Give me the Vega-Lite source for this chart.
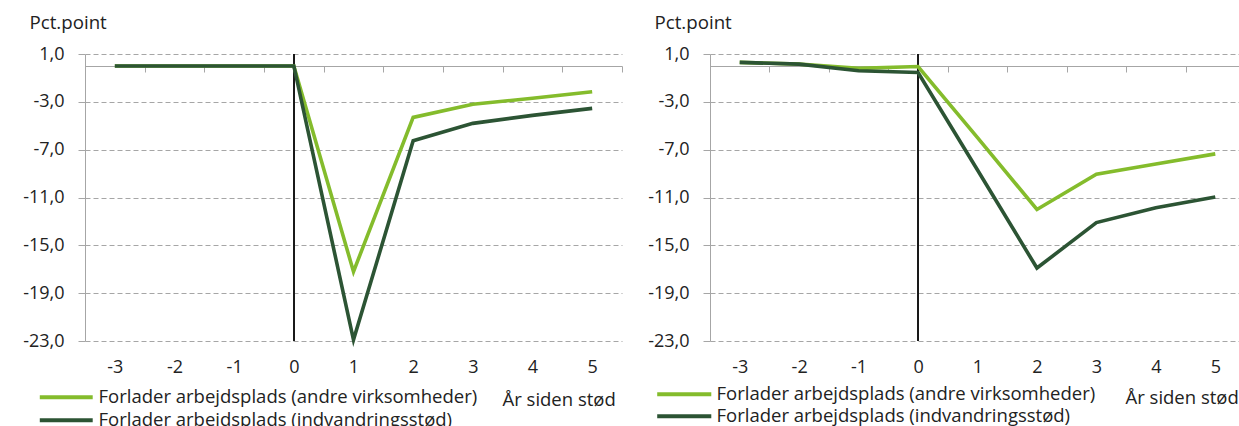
{
  "$schema": "https://vega.github.io/schema/vega-lite/v6.json",
  "padding": {"left": 22, "top": 13, "right": 0, "bottom": 0},
  "autosize": {"type": "pad"},
  "background": "white",
  "config": {
    "font": "Open Sans",
    "view": {"stroke": null},
    "concat": {"spacing": 24},
    "axis": {
      "labelFont": "Open Sans",
      "titleFont": "Open Sans",
      "labelColor": "#222222",
      "titleColor": "#222222",
      "labelFontSize": 18,
      "titleFontSize": 18.7,
      "titleFontWeight": "normal"
    },
    "legend": {
      "labelFont": "Open Sans",
      "labelFontSize": 18.5,
      "labelColor": "#222222",
      "labelLimit": 600
    }
  },
  "datasets": {
    "venstre": [
      {"aar": -3, "v": 0, "serie": "Forlader arbejdsplads (andre virksomheder)"},
      {"aar": -2, "v": 0, "serie": "Forlader arbejdsplads (andre virksomheder)"},
      {"aar": -1, "v": 0, "serie": "Forlader arbejdsplads (andre virksomheder)"},
      {"aar": 0, "v": 0, "serie": "Forlader arbejdsplads (andre virksomheder)"},
      {"aar": 1, "v": -17.2, "serie": "Forlader arbejdsplads (andre virksomheder)"},
      {"aar": 2, "v": -4.3, "serie": "Forlader arbejdsplads (andre virksomheder)"},
      {"aar": 3, "v": -3.2, "serie": "Forlader arbejdsplads (andre virksomheder)"},
      {"aar": 4, "v": -2.7, "serie": "Forlader arbejdsplads (andre virksomheder)"},
      {"aar": 5, "v": -2.15, "serie": "Forlader arbejdsplads (andre virksomheder)"},
      {"aar": -3, "v": 0, "serie": "Forlader arbejdsplads (indvandringsstød)"},
      {"aar": -2, "v": 0, "serie": "Forlader arbejdsplads (indvandringsstød)"},
      {"aar": -1, "v": 0, "serie": "Forlader arbejdsplads (indvandringsstød)"},
      {"aar": 0, "v": 0, "serie": "Forlader arbejdsplads (indvandringsstød)"},
      {"aar": 1, "v": -22.9, "serie": "Forlader arbejdsplads (indvandringsstød)"},
      {"aar": 2, "v": -6.25, "serie": "Forlader arbejdsplads (indvandringsstød)"},
      {"aar": 3, "v": -4.8, "serie": "Forlader arbejdsplads (indvandringsstød)"},
      {"aar": 4, "v": -4.13, "serie": "Forlader arbejdsplads (indvandringsstød)"},
      {"aar": 5, "v": -3.55, "serie": "Forlader arbejdsplads (indvandringsstød)"}
    ],
    "hoejre": [
      {"aar": -3, "v": 0.3, "serie": "Forlader arbejdsplads (andre virksomheder)"},
      {"aar": -2, "v": 0.15, "serie": "Forlader arbejdsplads (andre virksomheder)"},
      {"aar": -1, "v": -0.2, "serie": "Forlader arbejdsplads (andre virksomheder)"},
      {"aar": 0, "v": -0.05, "serie": "Forlader arbejdsplads (andre virksomheder)"},
      {"aar": 1, "v": -6.0, "serie": "Forlader arbejdsplads (andre virksomheder)"},
      {"aar": 2, "v": -12.0, "serie": "Forlader arbejdsplads (andre virksomheder)"},
      {"aar": 3, "v": -9.05, "serie": "Forlader arbejdsplads (andre virksomheder)"},
      {"aar": 4, "v": -8.2, "serie": "Forlader arbejdsplads (andre virksomheder)"},
      {"aar": 5, "v": -7.35, "serie": "Forlader arbejdsplads (andre virksomheder)"},
      {"aar": -3, "v": 0.3, "serie": "Forlader arbejdsplads (indvandringsstød)"},
      {"aar": -2, "v": 0.15, "serie": "Forlader arbejdsplads (indvandringsstød)"},
      {"aar": -1, "v": -0.4, "serie": "Forlader arbejdsplads (indvandringsstød)"},
      {"aar": 0, "v": -0.55, "serie": "Forlader arbejdsplads (indvandringsstød)"},
      {"aar": 1, "v": -8.7, "serie": "Forlader arbejdsplads (indvandringsstød)"},
      {"aar": 2, "v": -16.9, "serie": "Forlader arbejdsplads (indvandringsstød)"},
      {"aar": 3, "v": -13.1, "serie": "Forlader arbejdsplads (indvandringsstød)"},
      {"aar": 4, "v": -11.85, "serie": "Forlader arbejdsplads (indvandringsstød)"},
      {"aar": 5, "v": -10.95, "serie": "Forlader arbejdsplads (indvandringsstød)"}
    ]
  },
  "hconcat": [
    {
      "width": 537,
      "height": 287,
      "data": {"name": "venstre"},
      "resolve": {"axis": {"x": "independent"}},
      "layer": [
        {
          "mark": {"type": "rule", "color": "#1a1a1a", "strokeWidth": 1.2},
          "encoding": {
            "x": {
              "datum": 0,
              "type": "quantitative",
              "scale": {"domain": [-3.5, 5.5], "nice": false, "zero": false},
              "axis": {
                "orient": "bottom",
                "offset": -275,
                "values": [-2.5, -1.5, -0.5, 0.5, 1.5, 2.5, 3.5, 4.5, 5.5],
                "labels": false,
                "ticks": true,
                "tickSize": 6,
                "tickColor": "#a6a6a6",
                "domain": true,
                "domainColor": "#a6a6a6",
                "grid": false,
                "title": null
              }
            }
          }
        },
        {
          "mark": {"type": "line", "strokeWidth": 3.6},
          "encoding": {
            "x": {
              "field": "aar",
              "type": "quantitative",
              "scale": {"domain": [-3.5, 5.5], "nice": false, "zero": false},
              "axis": {
                "orient": "bottom",
                "values": [-3, -2, -1, 0, 1, 2, 3, 4, 5],
                "labelExpr": "(datum.value < 0 ? '-' : '') + abs(datum.value)",
                "domain": false,
                "ticks": false,
                "grid": false,
                "labelPadding": 17,
                "labelFlush": false,
                "title": "År siden stød",
                "titleX": 417,
                "titleY": 64,
                "titleAlign": "left",
                "titleBaseline": "alphabetic",
                "titleFontSize": 18.5
              }
            },
            "y": {
              "field": "v",
              "type": "quantitative",
              "scale": {"domain": [-23, 1], "nice": false, "zero": false},
              "axis": {
                "values": [1, -3, -7, -11, -15, -19, -23],
                "labelExpr": "(datum.value < 0 ? '-' : '') + replace(format(abs(datum.value), '.1f'), '.', ',')",
                "domainColor": "#a6a6a6",
                "tickColor": "#a6a6a6",
                "tickSize": 7,
                "labelPadding": 14,
                "grid": true,
                "gridColor": "#a6a6a6",
                "gridDash": [5, 3],
                "gridWidth": 1,
                "title": "Pct.point",
                "titleAngle": 0,
                "titleX": -56,
                "titleY": -26,
                "titleAlign": "left",
                "titleBaseline": "alphabetic"
              }
            },
            "color": {
              "field": "serie",
              "type": "nominal",
              "scale": {
                "domain": ["Forlader arbejdsplads (andre virksomheder)", "Forlader arbejdsplads (indvandringsstød)"],
                "range": ["#84bc2c", "#2c5434"]
              },
              "legend": {
                "orient": "none",
                "legendX": -28,
                "legendY": 334,
                "direction": "vertical",
                "title": null,
                "symbolType": "M-5,0H5",
                "symbolSize": 112,
                "symbolStrokeWidth": 4,
                "labelOffset": 23,
                "rowPadding": 4
              }
            }
          }
        }
      ]
    },
    {
      "width": 535,
      "height": 287,
      "data": {"name": "hoejre"},
      "resolve": {"axis": {"x": "independent"}},
      "layer": [
        {
          "mark": {"type": "rule", "color": "#1a1a1a", "strokeWidth": 1.2},
          "encoding": {
            "x": {
              "datum": 0,
              "type": "quantitative",
              "scale": {"domain": [-3.5, 5.5], "nice": false, "zero": false},
              "axis": {
                "orient": "bottom",
                "offset": -275,
                "values": [-2.5, -1.5, -0.5, 0.5, 1.5, 2.5, 3.5, 4.5, 5.5],
                "labels": false,
                "ticks": true,
                "tickSize": 6,
                "tickColor": "#a6a6a6",
                "domain": true,
                "domainColor": "#a6a6a6",
                "grid": false,
                "title": null
              }
            }
          }
        },
        {
          "mark": {"type": "line", "strokeWidth": 3.6},
          "encoding": {
            "x": {
              "field": "aar",
              "type": "quantitative",
              "scale": {"domain": [-3.5, 5.5], "nice": false, "zero": false},
              "axis": {
                "orient": "bottom",
                "values": [-3, -2, -1, 0, 1, 2, 3, 4, 5],
                "labelExpr": "(datum.value < 0 ? '-' : '') + abs(datum.value)",
                "domain": false,
                "ticks": false,
                "grid": false,
                "labelPadding": 17,
                "labelFlush": false,
                "title": "År siden stød",
                "titleX": 415,
                "titleY": 62,
                "titleAlign": "left",
                "titleBaseline": "alphabetic",
                "titleFontSize": 18.5
              }
            },
            "y": {
              "field": "v",
              "type": "quantitative",
              "scale": {"domain": [-23, 1], "nice": false, "zero": false},
              "axis": {
                "values": [1, -3, -7, -11, -15, -19, -23],
                "labelExpr": "(datum.value < 0 ? '-' : '') + replace(format(abs(datum.value), '.1f'), '.', ',')",
                "domainColor": "#a6a6a6",
                "tickColor": "#a6a6a6",
                "tickSize": 7,
                "labelPadding": 14,
                "grid": true,
                "gridColor": "#a6a6a6",
                "gridDash": [5, 3],
                "gridWidth": 1,
                "title": "Pct.point",
                "titleAngle": 0,
                "titleX": -56,
                "titleY": -26,
                "titleAlign": "left",
                "titleBaseline": "alphabetic"
              }
            },
            "color": {
              "field": "serie",
              "type": "nominal",
              "scale": {
                "domain": ["Forlader arbejdsplads (andre virksomheder)", "Forlader arbejdsplads (indvandringsstød)"],
                "range": ["#84bc2c", "#2c5434"]
              },
              "legend": {
                "orient": "none",
                "legendX": -35,
                "legendY": 331,
                "direction": "vertical",
                "title": null,
                "symbolType": "M-5,0H5",
                "symbolSize": 117,
                "symbolStrokeWidth": 4,
                "labelOffset": 23,
                "rowPadding": 3
              }
            }
          }
        }
      ]
    }
  ],
  "resolve": {"legend": {"color": "independent"}}
}
